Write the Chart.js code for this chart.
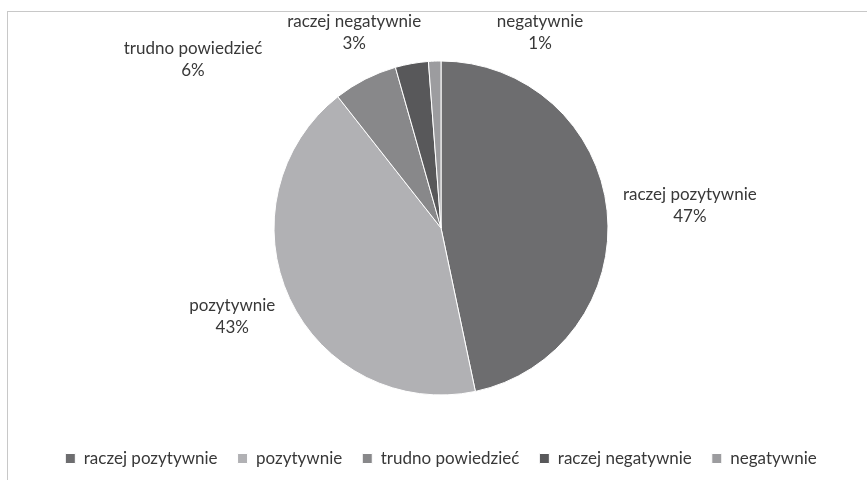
<!DOCTYPE html>
<html>
<head>
<meta charset="utf-8">
<script src="https://cdn.jsdelivr.net/npm/chart.js@4"></script>
<style>
  body { margin: 0; background: #fff; }
  #wrap { position: relative; width: 867px; height: 480px; overflow: hidden; }
  #frame { position: absolute; left: 7px; top: 11px; width: 900px; height: 500px;
           border-left: 1px solid #c8c8c8; border-top: 1px solid #c8c8c8; }
  canvas { position: absolute; left: 0; top: 0; }
</style>
</head>
<body>
<div id="wrap">
  <div id="frame"></div>
  <canvas id="myChart" width="867" height="480"></canvas>
</div>
<script>
const labels = ["raczej pozytywnie", "pozytywnie", "trudno powiedzieć", "raczej negatywnie", "negatywnie"];
const shares = [46.7, 42.7, 6.2, 3.2, 1.2];
const colors = ["#6d6d6f", "#b1b1b4", "#88888a", "#58585a", "#9c9c9f"];

// label anchor offsets in units of the pie radius (as placed in the reference)
const labelOffsets = [[1.49, -0.135], [-1.25, 0.53], [-1.485, -1.01], [-0.52, -1.17], [0.593, -1.17]];

const outsideLabels = {
  id: "outsideLabels",
  afterDatasetsDraw(chart) {
    const ctx = chart.ctx;
    const meta = chart.getDatasetMeta(0);
    const total = shares.reduce((a, b) => a + b, 0);
    ctx.save();
    ctx.font = "17px Lato";
    ctx.fillStyle = "#383838";
    ctx.textAlign = "center";
    ctx.textBaseline = "middle";
    meta.data.forEach((arc, i) => {
      const r = arc.outerRadius;
      const x = arc.x + labelOffsets[i][0] * r;
      const y = arc.y + labelOffsets[i][1] * r;
      const pct = Math.round(shares[i] / total * 100) + "%";
      ctx.fillText(labels[i], x, y - 11);
      ctx.fillText(pct, x, y + 11);
    });
    ctx.restore();
  }
};

const ctx = document.getElementById("myChart").getContext("2d");
new Chart(ctx, {
  type: "pie",
  data: {
    labels: labels,
    datasets: [{
      data: shares,
      backgroundColor: colors,
      borderColor: "#ffffff",
      borderWidth: 1,
    }],
  },
  options: {
    responsive: false,
    animation: false,
    radius: 167,
    layout: { padding: { top: 26, bottom: 3, left: 15, right: 0 } },
    plugins: {
      tooltip: { enabled: false },
      legend: {
        display: true,
        position: "bottom",
        labels: {
          boxWidth: 10,
          boxHeight: 10,
          padding: 20,
          color: "#383838",
          font: { family: "Lato", size: 17 },
        },
      },
    },
  },
  plugins: [outsideLabels],
});
</script>
</body>
</html>
